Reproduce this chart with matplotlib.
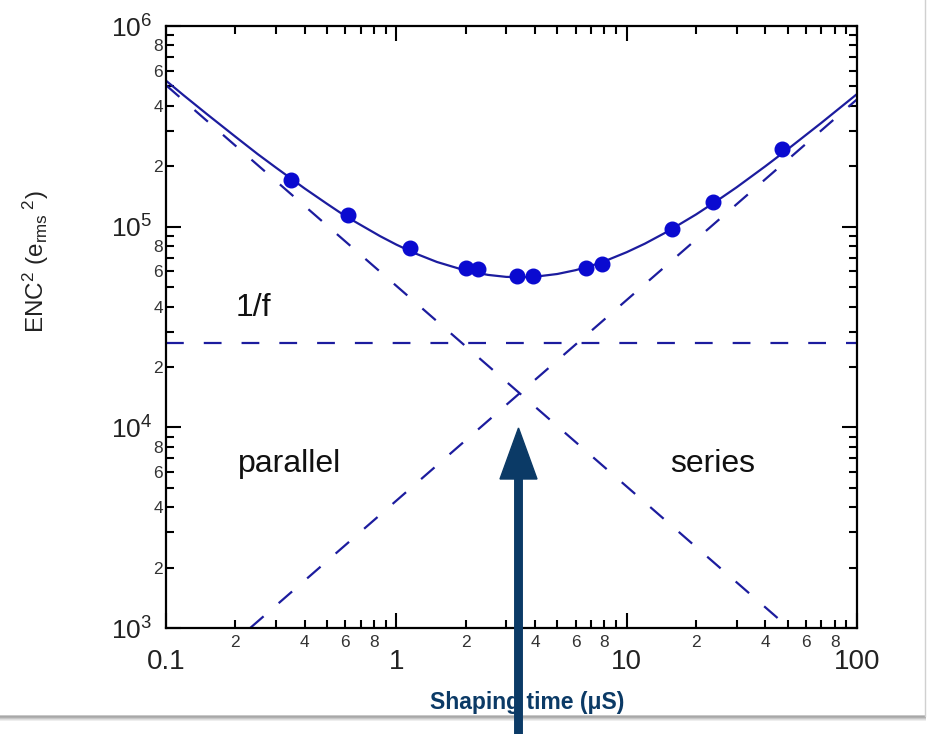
import math
import matplotlib
matplotlib.use("Agg")
import matplotlib.pyplot as plt
from matplotlib.ticker import LogLocator, FuncFormatter
from matplotlib.patches import FancyArrow, Rectangle
from matplotlib.lines import Line2D

plt.rcParams['font.family'] = ['Liberation Sans', 'DejaVu Sans']
plt.rcParams['mathtext.fontset'] = 'custom'
plt.rcParams['mathtext.rm'] = 'Liberation Sans'
plt.rcParams['mathtext.it'] = 'Liberation Sans:italic'
plt.rcParams['mathtext.bf'] = 'Liberation Sans:bold'

# ---- data ----
meas_tau = [0.349, 0.617, 1.15, 2.01, 2.27, 3.34, 3.93, 6.67, 7.82, 15.7, 23.7, 47.3]
meas_enc2 = [1.71e5, 1.14e5, 7.83e4, 6.22e4, 6.17e4, 5.68e4, 5.68e4, 6.2e4, 6.5e4, 9.75e4, 1.33e5, 2.44e5]

fit_tau = [0.1, 0.12, 0.15, 0.2, 0.25, 0.3, 0.4, 0.5, 0.6, 0.7, 0.85, 1, 1.2, 1.5, 2, 2.5,
           3, 3.5, 4, 5, 6, 7, 8, 10, 12, 15, 20, 25, 30, 40, 50, 70, 100]
fit_enc2 = [5.34e5, 4.49e5, 3.65e5, 2.81e5, 2.30e5, 1.97e5, 1.55e5, 1.30e5, 1.13e5, 1.02e5,
            8.97e4, 8.14e4, 7.38e4, 6.67e4, 6.04e4, 5.75e4, 5.62e4, 5.60e4, 5.63e4, 5.81e4,
            6.07e4, 6.38e4, 6.72e4, 7.46e4, 8.23e4, 9.44e4, 1.15e5, 1.36e5, 1.57e5, 2.00e5,
            2.43e5, 3.29e5, 4.58e5]

oneoverf_tau = [0.1, 100]
oneoverf_enc2 = [2.64e4, 2.64e4]
parallel_tau = [0.232, 100]
parallel_enc2 = [1e3, 4.31e5]
series_tau = [0.1, 50.7]
series_enc2 = [5.07e5, 1e3]

x_major_labels = {0.1: '0.1', 1.0: '1', 10.0: '10', 100.0: '100'}
minor_label_digits = [2, 4, 6, 8]

line_col = '#1c1c9e'
dot_col = '#0a0ad0'
navy = '#0b3a66'

fig = plt.figure(figsize=(9.3, 7.34), dpi=100)
ax = fig.add_axes([166/930, 1-628/734, (857-166)/930, (628-26)/734])
ax.set_xscale('log')
ax.set_yscale('log')
ax.set_xlim(0.1, 100)
ax.set_ylim(1e3, 1e6)

ls = (0, (8, 9))
ax.plot(oneoverf_tau, oneoverf_enc2, color=line_col, lw=1.6, linestyle=ls)
ax.plot(parallel_tau, parallel_enc2, color=line_col, lw=1.6, linestyle=ls)
ax.plot(series_tau, series_enc2, color=line_col, lw=1.6, linestyle=ls)
ax.plot(fit_tau, fit_enc2, color=line_col, lw=1.6)
ax.plot(meas_tau, meas_enc2, 'o', color=dot_col, ms=10.5, mec=dot_col)

ax.text(0.2, 3.95e4, '1/f', fontsize=23, ha='left', va='center', color='#111111')
ax.text(0.206, 6.6e3, 'parallel', fontsize=23, ha='left', va='center', color='#111111')
ax.text(15.5, 6.6e3, 'series', fontsize=23, ha='left', va='center', color='#111111')

# ticks
for axis in (ax.xaxis, ax.yaxis):
    axis.set_major_locator(LogLocator(base=10, numticks=10))
    axis.set_minor_locator(LogLocator(base=10, subs=range(2, 10), numticks=20))

def minor_fmt(v, pos):
    e = math.floor(math.log10(v) + 1e-9)
    d = int(round(v / 10**e))
    return str(d) if d in minor_label_digits else ''

ax.xaxis.set_minor_formatter(FuncFormatter(minor_fmt))
ax.yaxis.set_minor_formatter(FuncFormatter(minor_fmt))
ax.xaxis.set_major_formatter(FuncFormatter(lambda v, p: x_major_labels.get(round(v, 3), '')))
ax.yaxis.set_major_formatter(FuncFormatter(lambda v, p: r'$10^{%d}$' % round(math.log10(v))))

ax.tick_params(which='both', direction='in', top=True, right=True, width=1.5)
ax.tick_params(which='major', length=11)
ax.tick_params(which='minor', length=6)
ax.tick_params(axis='x', which='major', labelsize=20, pad=15, labelcolor='#222222')
ax.tick_params(axis='x', which='minor', labelsize=12.5, pad=5, labelcolor='#333333')
ax.tick_params(axis='y', which='major', labelsize=19, pad=10, labelcolor='#222222')
ax.tick_params(axis='y', which='minor', labelsize=12.5, pad=2, labelcolor='#333333')
for s in ax.spines.values():
    s.set_linewidth(1.6)

fig.text(36/930, 1-262/734, r'ENC$^2$ (e$_{\mathrm{rms}}$$^{\ 2}$)', rotation=90,
         ha='center', va='center', fontsize=17.5, color='#222222')

fig.text(527/930, 1-703/734, 'Shaping time (μS)', ha='center', va='center',
         fontsize=16.5, fontweight='bold', color=navy)

# slide shadow
for i, c in enumerate(['#c8c8c8', '#a8a8a8', '#b0b0b0', '#c8c8c8', '#dedede', '#eeeeee']):
    fig.add_artist(Rectangle((0, 1-(716+i)/734), 926/930, 1/734,
                             transform=fig.transFigure, color=c, lw=0, zorder=5))
fig.add_artist(Line2D([925/930, 925/930], [1-716/734, 1.0], transform=fig.transFigure,
                      color='#d0d0d0', lw=1.0, zorder=5))

# arrow (pixel coords via inches)
arr = FancyArrow(5.185, 0.0, 0, (734-428)/100, width=0.075, head_width=0.37, head_length=0.51,
                 length_includes_head=True, color=navy, transform=fig.dpi_scale_trans, zorder=10)
fig.add_artist(arr)

fig.savefig('out.png', dpi=100)
